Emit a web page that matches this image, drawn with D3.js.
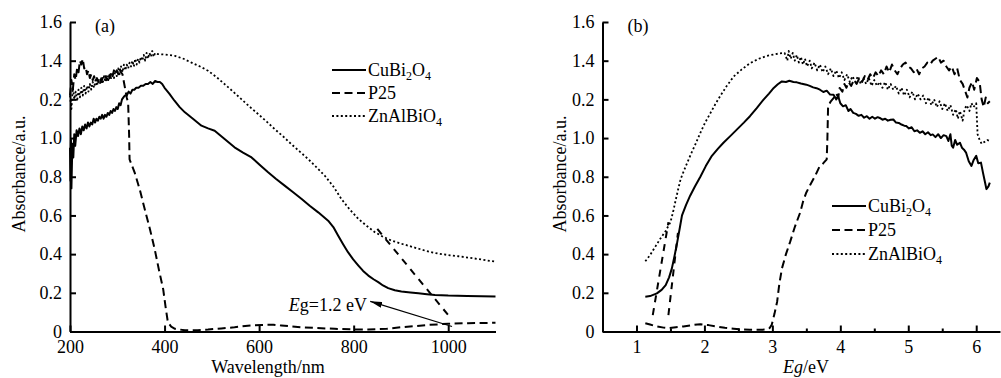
<!DOCTYPE html>
<html>
<head>
<meta charset="utf-8">
<script src="https://cdn.jsdelivr.net/npm/d3@7/dist/d3.min.js"></script>
<style>
    body { margin: 0; background: #fff; }
    svg { display: block; font-family: "Liberation Serif", "Times New Roman", serif; }
</style>
</head>
<body>
<svg id="chart" width="1001" height="378"></svg>
<script>
// ---- panel (a): absorbance vs wavelength (nm) ----
const cuA = [[200,0.95],[201,0.78],[202,0.99],[203,0.74],[205,0.97],[207,0.90],[209,1.02],[211,0.96],[214,1.04],[217,1.01],[220,1.05],[223,1.02],[226,1.06],[229,1.04],[232,1.07],[235,1.05],[238,1.08],[241,1.06],[244,1.08],[247,1.07],[250,1.10],[253,1.08],[256,1.10],[259,1.09],[262,1.11],[265,1.10],[268,1.12],[271,1.10],[274,1.12],[277,1.11],[280,1.13],[283,1.12],[286,1.14],[289,1.13],[292,1.15],[295,1.14],[298,1.16],[301,1.15],[304,1.18],[307,1.17],[310,1.20],[313,1.21],[316,1.22],[320,1.22],[324,1.24],[328,1.23],[332,1.25],[336,1.25],[340,1.26],[345,1.26],[350,1.27],[355,1.27],[360,1.28],[365,1.28],[370,1.29],[375,1.28],[380,1.295],[385,1.29],[390,1.29],[395,1.28],[400,1.26],[410,1.23],[421,1.193],[432,1.16],[443,1.133],[460,1.10],[478,1.064],[492,1.05],[506,1.038],[527,0.995],[548,0.952],[566,0.925],[584,0.90],[601,0.862],[619,0.823],[636,0.788],[654,0.754],[672,0.72],[690,0.685],[707,0.65],[725,0.616],[746,0.573],[757,0.54],[767,0.496],[778,0.45],[788,0.41],[799,0.373],[810,0.341],[820,0.313],[831,0.289],[842,0.27],[852,0.255],[862,0.238],[873,0.224],[887,0.213],[901,0.207],[920,0.202],[937,0.198],[955,0.193],[972,0.189],[1000,0.186],[1040,0.184],[1070,0.182],[1100,0.181]];

const p25A = [[200,1.22],[203,1.30],[206,1.25],[209,1.33],[212,1.30],[215,1.36],[218,1.34],[221,1.40],[224,1.38],[227,1.41],[230,1.36],[233,1.37],[236,1.33],[239,1.35],[242,1.31],[245,1.33],[248,1.30],[251,1.32],[254,1.29],[257,1.31],[260,1.29],[263,1.31],[266,1.29],[269,1.31],[272,1.30],[275,1.32],[278,1.30],[281,1.33],[284,1.31],[287,1.34],[290,1.32],[293,1.35],[296,1.33],[299,1.35],[302,1.33],[305,1.36],[308,1.34],[311,1.33],[314,1.29],[317,1.25],[320,1.21],[323,1.18],[325,1.02],[326,0.89],[337,0.82],[348,0.73],[358,0.633],[369,0.53],[379,0.427],[388,0.32],[397,0.22],[402,0.13],[407,0.048],[414,0.025],[422,0.014],[443,0.006],[470,0.007],[492,0.01],[520,0.016],[548,0.022],[576,0.03],[605,0.034],[630,0.035],[647,0.031],[670,0.026],[690,0.022],[720,0.018],[760,0.014],[800,0.011],[831,0.01],[870,0.014],[901,0.022],[930,0.028],[958,0.034],[1000,0.04],[1042,0.043],[1100,0.045]];

const znA = [[200,1.22],[203,1.15],[206,1.26],[209,1.20],[212,1.24],[215,1.19],[218,1.25],[221,1.21],[224,1.26],[227,1.22],[230,1.27],[233,1.23],[236,1.27],[239,1.24],[242,1.28],[245,1.25],[248,1.29],[251,1.26],[254,1.30],[257,1.27],[260,1.30],[263,1.28],[266,1.31],[269,1.28],[272,1.32],[275,1.29],[278,1.32],[281,1.30],[284,1.33],[287,1.31],[290,1.34],[293,1.31],[296,1.35],[299,1.32],[302,1.36],[305,1.33],[308,1.37],[311,1.34],[314,1.38],[317,1.35],[320,1.38],[323,1.36],[326,1.39],[329,1.37],[332,1.40],[335,1.37],[338,1.41],[341,1.38],[344,1.41],[347,1.39],[350,1.42],[353,1.40],[356,1.43],[359,1.40],[362,1.44],[365,1.41],[368,1.44],[371,1.42],[374,1.45],[377,1.42],[380,1.44],[386,1.434],[400,1.432],[422,1.425],[440,1.41],[457,1.39],[475,1.37],[492,1.348],[510,1.315],[527,1.279],[545,1.24],[563,1.20],[580,1.162],[598,1.124],[616,1.085],[633,1.046],[651,1.008],[668,0.969],[686,0.93],[704,0.891],[721,0.85],[739,0.805],[757,0.75],[774,0.685],[792,0.63],[810,0.582],[828,0.545],[845,0.513],[862,0.49],[880,0.47],[898,0.456],[915,0.444],[933,0.431],[951,0.418],[968,0.408],[986,0.40],[1004,0.394],[1021,0.389],[1042,0.382],[1063,0.375],[1080,0.368],[1100,0.361]];

// band-gap tangent in (a)
const tangentA = [[850,0.53],[1005,0.07]];

// ---- panel (b): absorbance vs Eg (eV) ----
const cuB = [[1.13,0.18],[1.2,0.183],[1.3,0.197],[1.37,0.215],[1.43,0.24],[1.48,0.28],[1.52,0.325],[1.56,0.39],[1.60,0.462],[1.64,0.54],[1.67,0.60],[1.73,0.655],[1.79,0.702],[1.86,0.75],[1.94,0.80],[2.02,0.855],[2.11,0.908],[2.2,0.945],[2.28,0.976],[2.38,1.01],[2.48,1.045],[2.58,1.08],[2.67,1.113],[2.77,1.155],[2.87,1.199],[2.95,1.23],[3.02,1.259],[3.08,1.278],[3.14,1.293],[3.2,1.29],[3.25,1.296],[3.31,1.29],[3.36,1.288],[3.42,1.282],[3.5,1.276],[3.55,1.27],[3.6,1.262],[3.65,1.258],[3.7,1.25],[3.75,1.238],[3.8,1.245],[3.85,1.225],[3.9,1.224],[3.94,1.2],[3.97,1.215],[4.0,1.18],[4.04,1.164],[4.08,1.17],[4.12,1.14],[4.15,1.15],[4.19,1.13],[4.23,1.125],[4.27,1.115],[4.31,1.12],[4.35,1.105],[4.39,1.113],[4.43,1.10],[4.47,1.11],[4.51,1.10],[4.55,1.108],[4.58,1.104],[4.62,1.095],[4.66,1.10],[4.70,1.09],[4.74,1.095],[4.78,1.096],[4.82,1.08],[4.86,1.078],[4.9,1.07],[4.94,1.064],[4.97,1.062],[5.01,1.05],[5.05,1.056],[5.09,1.035],[5.13,1.04],[5.17,1.027],[5.21,1.035],[5.25,1.02],[5.29,1.03],[5.33,1.015],[5.36,1.019],[5.40,1.005],[5.44,1.02],[5.48,1.0],[5.52,1.015],[5.56,1.01],[5.59,0.985],[5.62,1.02],[5.64,0.96],[5.66,0.95],[5.69,0.99],[5.72,0.965],[5.76,0.976],[5.79,0.95],[5.82,0.94],[5.85,0.925],[5.89,0.88],[5.93,0.856],[5.96,0.885],[6.0,0.908],[6.03,0.87],[6.07,0.873],[6.1,0.82],[6.13,0.77],[6.15,0.736],[6.18,0.75],[6.2,0.77]];

const p25B = [[1.13,0.043],[1.2,0.036],[1.3,0.026],[1.4,0.02],[1.47,0.017],[1.58,0.022],[1.69,0.026],[1.82,0.033],[1.94,0.038],[2.06,0.033],[2.18,0.026],[2.3,0.019],[2.43,0.014],[2.55,0.01],[2.67,0.009],[2.8,0.009],[2.92,0.01],[2.96,0.018],[2.99,0.034],[3.03,0.09],[3.07,0.154],[3.10,0.24],[3.14,0.325],[3.20,0.40],[3.26,0.462],[3.33,0.54],[3.41,0.616],[3.45,0.67],[3.50,0.719],[3.56,0.76],[3.63,0.805],[3.69,0.85],[3.75,0.87],[3.80,0.89],[3.81,1.0],[3.82,1.164],[3.86,1.19],[3.90,1.207],[3.94,1.23],[3.97,1.21],[3.99,1.259],[4.03,1.24],[4.06,1.28],[4.09,1.26],[4.12,1.29],[4.16,1.27],[4.20,1.30],[4.24,1.28],[4.28,1.31],[4.32,1.29],[4.36,1.32],[4.40,1.30],[4.44,1.33],[4.48,1.31],[4.52,1.34],[4.56,1.32],[4.60,1.35],[4.64,1.33],[4.68,1.37],[4.72,1.34],[4.76,1.38],[4.80,1.35],[4.84,1.33],[4.88,1.36],[4.92,1.38],[4.96,1.39],[5.00,1.37],[5.04,1.36],[5.08,1.34],[5.12,1.36],[5.16,1.33],[5.20,1.36],[5.24,1.37],[5.28,1.39],[5.32,1.38],[5.36,1.40],[5.40,1.41],[5.44,1.42],[5.48,1.39],[5.52,1.40],[5.56,1.37],[5.60,1.35],[5.64,1.37],[5.68,1.33],[5.72,1.36],[5.76,1.30],[5.80,1.28],[5.84,1.24],[5.87,1.21],[5.90,1.26],[5.94,1.29],[5.97,1.25],[6.01,1.31],[6.05,1.29],[6.08,1.20],[6.11,1.16],[6.14,1.21],[6.17,1.18],[6.2,1.19]];

const znB = [[1.13,0.363],[1.2,0.395],[1.28,0.44],[1.35,0.479],[1.43,0.52],[1.5,0.565],[1.54,0.62],[1.57,0.668],[1.61,0.73],[1.65,0.788],[1.72,0.85],[1.79,0.908],[1.87,0.97],[1.94,1.027],[2.01,1.08],[2.09,1.13],[2.16,1.175],[2.23,1.216],[2.33,1.27],[2.43,1.318],[2.55,1.355],[2.67,1.387],[2.8,1.41],[2.92,1.425],[3.02,1.432],[3.11,1.438],[3.18,1.44],[3.22,1.40],[3.24,1.45],[3.27,1.41],[3.30,1.44],[3.33,1.40],[3.36,1.43],[3.39,1.39],[3.42,1.42],[3.45,1.38],[3.48,1.41],[3.51,1.37],[3.55,1.40],[3.58,1.36],[3.62,1.39],[3.66,1.35],[3.70,1.38],[3.74,1.34],[3.78,1.37],[3.82,1.33],[3.86,1.36],[3.90,1.32],[3.94,1.35],[3.98,1.31],[4.02,1.34],[4.06,1.30],[4.10,1.33],[4.14,1.29],[4.18,1.32],[4.22,1.29],[4.26,1.32],[4.30,1.28],[4.34,1.31],[4.38,1.28],[4.42,1.31],[4.46,1.27],[4.50,1.30],[4.54,1.27],[4.58,1.29],[4.62,1.26],[4.66,1.29],[4.70,1.25],[4.74,1.28],[4.78,1.25],[4.82,1.27],[4.86,1.23],[4.90,1.26],[4.94,1.22],[4.98,1.25],[5.02,1.21],[5.06,1.24],[5.10,1.20],[5.14,1.23],[5.18,1.20],[5.22,1.22],[5.26,1.18],[5.30,1.21],[5.34,1.17],[5.38,1.20],[5.42,1.16],[5.46,1.19],[5.50,1.15],[5.54,1.18],[5.58,1.14],[5.62,1.17],[5.66,1.12],[5.70,1.15],[5.73,1.10],[5.76,1.14],[5.80,1.09],[5.83,1.15],[5.86,1.17],[5.90,1.14],[5.93,1.18],[5.96,1.16],[6.0,1.18],[6.02,1.02],[6.05,0.99],[6.08,0.97],[6.12,0.98],[6.16,0.99],[6.2,0.985]];

// tangents in (b)
const tangentB1 = [[1.24,0.085],[1.47,0.565]];
const tangentB2 = [[1.47,0.085],[1.61,0.51]];

// ---- ticks / labels ----
const yTicks = [0, 0.2, 0.4, 0.6, 0.8, 1.0, 1.2, 1.4, 1.6];
const yTickLabels = ["0", "0.2", "0.4", "0.6", "0.8", "1.0", "0.2", "1.4", "1.6"];
const xTicksA = [200, 400, 600, 800, 1000];
const xTicksB = [1, 2, 3, 4, 5, 6];
const xMinorB = [1.5, 2.5, 3.5, 4.5, 5.5];
const seriesNames = ["CuBi2O4", "P25", "ZnAlBiO4"];

const FONT = 18;
const svg = d3.select("#chart");
svg.append("rect").attr("width", 1001).attr("height", 378).attr("fill", "#fff");

svg.append("defs").append("marker")
    .attr("id", "arrow")
    .attr("viewBox", "0 0 12 6")
    .attr("refX", 12).attr("refY", 3)
    .attr("markerWidth", 12).attr("markerHeight", 6)
    .attr("markerUnits", "userSpaceOnUse")
    .attr("orient", "auto")
    .append("path")
    .attr("d", "M0,0 L12,3 L0,6 Z")
    .attr("fill", "#000");

const styles = [
    {dash: null, width: 2},
    {dash: "8,4.5", width: 2},
    {dash: "2,2.4", width: 1.8}
];

// digits in a formula become subscripts (P25 keeps its digits)
function chemText(sel, name) {
    const chem = /[a-z]/.test(name);
    let lowered = false;
    name.split(/(\d+)/).filter(s => s.length).forEach(part => {
        const ts = sel.append("tspan").text(part);
        if (chem && /\d/.test(part)) {
            ts.attr("font-size", 12).attr("dy", 4);
            lowered = true;
        } else if (lowered) {
            ts.attr("dy", -4);
            lowered = false;
        }
    });
}

function drawPanel(cfg) {
    const x = d3.scaleLinear().domain(cfg.xDomain).range(cfg.xRange);
    const y = d3.scaleLinear().domain([0, 1.6]).range([331.5, 22]);
    const g = svg.append("g");

    const line = d3.line().x(d => x(d[0])).y(d => y(d[1]));

    cfg.series.forEach((data, i) => {
        g.append("path")
            .datum(data)
            .attr("fill", "none")
            .attr("stroke", "#000")
            .attr("stroke-width", styles[i].width)
            .attr("stroke-dasharray", styles[i].dash)
            .attr("stroke-linejoin", "round")
            .attr("d", line);
    });

    cfg.tangents.forEach(t => {
        g.append("path")
            .datum(t)
            .attr("fill", "none")
            .attr("stroke", "#000")
            .attr("stroke-width", 2)
            .attr("stroke-dasharray", "7,6")
            .attr("d", line);
    });

    // axes (ticks point inward)
    const yAxis = g.append("g")
        .attr("transform", `translate(${cfg.xRange[0]},0)`)
        .call(d3.axisLeft(y).tickValues(yTicks)
            .tickFormat((d, i) => yTickLabels[i])
            .tickSizeInner(-6).tickSizeOuter(0).tickPadding(8));

    const xAxis = g.append("g")
        .attr("transform", "translate(0,331.5)")
        .call(d3.axisBottom(x).tickValues(cfg.xTicks)
            .tickFormat(d3.format("d"))
            .tickSizeInner(-6).tickSizeOuter(0).tickPadding(9));

    if (cfg.xMinor) {
        g.append("g")
            .attr("transform", "translate(0,331.5)")
            .call(d3.axisBottom(x).tickValues(cfg.xMinor).tickFormat("")
                .tickSizeInner(-3).tickSizeOuter(0))
            .call(a => a.select(".domain").remove())
            .call(a => a.selectAll("text").remove());
    }

    [yAxis, xAxis].forEach(a => {
        a.select(".domain").attr("stroke-width", 2);
        a.selectAll("text").attr("font-size", FONT)
            .attr("font-family", "Liberation Serif, Times New Roman, serif")
            .attr("fill", "#000");
    });
    g.selectAll(".tick line").attr("stroke-width", 2);

    // y label
    g.append("text")
        .attr("transform", `translate(${cfg.yLabelX},174) rotate(-90)`)
        .attr("text-anchor", "middle")
        .attr("font-size", FONT)
        .text("Absorbance/a.u.");

    // x label
    const xl = g.append("text")
        .attr("x", cfg.xLabelX).attr("y", 373)
        .attr("text-anchor", "middle")
        .attr("font-size", FONT);
    cfg.xLabel(xl);

    // panel tag
    g.append("text")
        .attr("x", cfg.xRange[0] + 25).attr("y", 32)
        .attr("font-size", FONT)
        .text(cfg.tag);

    // legend
    cfg.legendY.forEach((ly, i) => {
        g.append("line")
            .attr("x1", cfg.legendX).attr("x2", cfg.legendX + 34)
            .attr("y1", ly).attr("y2", ly)
            .attr("stroke", "#000")
            .attr("stroke-width", styles[i].width)
            .attr("stroke-dasharray", styles[i].dash);
        const t = g.append("text")
            .attr("x", cfg.legendX + 36).attr("y", ly + 6)
            .attr("font-size", FONT);
        chemText(t, seriesNames[i]);
    });

    return {x, y, g};
}

const pa = drawPanel({
    xDomain: [200, 1100], xRange: [70, 495.5],
    xTicks: xTicksA,
    series: [cuA, p25A, znA],
    tangents: [tangentA],
    yLabelX: 25, xLabelX: 268,
    xLabel: t => t.text("Wavelength/nm"),
    tag: "(a)",
    legendX: 332, legendY: [70, 93, 116]
});

// annotation in (a)
pa.g.append("line")
    .attr("x1", pa.x(1008)).attr("y1", pa.y(0.026))
    .attr("x2", pa.x(835)).attr("y2", pa.y(0.156))
    .attr("stroke", "#000").attr("stroke-width", 1.2)
    .attr("marker-end", "url(#arrow)");
const ann = pa.g.append("text")
    .attr("x", pa.x(828)).attr("y", pa.y(0.106))
    .attr("text-anchor", "end")
    .attr("font-size", FONT);
ann.append("tspan").attr("font-style", "italic").text("E");
ann.append("tspan").text("g=1.2 eV");

drawPanel({
    xDomain: [0.5, 6.35], xRange: [602.5, 1000],
    xTicks: xTicksB, xMinor: xMinorB,
    series: [cuB, p25B, znB],
    tangents: [tangentB1, tangentB2],
    yLabelX: 566, xLabelX: 806,
    xLabel: t => {
        t.append("tspan").attr("font-style", "italic").text("Eg");
        t.append("tspan").text("/eV");
    },
    tag: "(b)",
    legendX: 832, legendY: [206, 230, 254]
});
</script>
</body>
</html>
